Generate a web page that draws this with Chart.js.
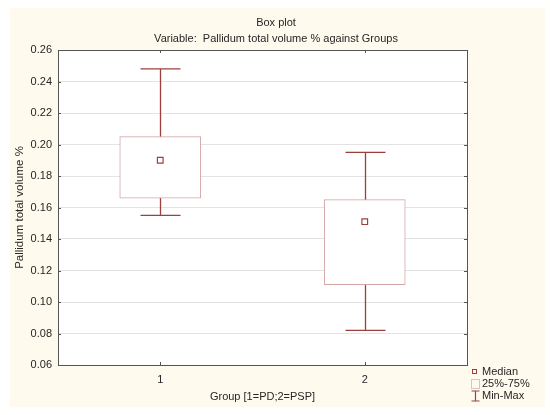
<!DOCTYPE html>
<html>
<head>
<meta charset="utf-8">
<script src="https://cdn.jsdelivr.net/npm/chart.js@4"></script>
<style>
  html, body { margin: 0; padding: 0; background: #fff; }
  #wrap { width: 550px; height: 415px; position: relative; }
</style>
</head>
<body>
<div id="wrap"><canvas id="chart"></canvas></div>
<script>
// data
var groups  = ["1", "2"];
var mins    = [0.155, 0.082];
var q1      = [0.166, 0.111];
var medians = [0.190, 0.151];
var q3      = [0.205, 0.165];
var maxs    = [0.248, 0.195];
var yTicks  = [0.06, 0.08, 0.10, 0.12, 0.14, 0.16, 0.18, 0.20, 0.22, 0.24, 0.26];

var darkRed = "#9e3f3f";
var boxLine = "#d3a5a5";
var font = "'Liberation Sans', Arial, sans-serif";

// cream panel + white plot area
var backdrop = {
  id: "backdrop",
  beforeDraw: function(chart) {
    var c = chart.ctx, a = chart.chartArea;
    c.save();
    c.fillStyle = "#fffaee";
    c.fillRect(10, 8, 535, 399);
    c.fillStyle = "#ffffff";
    c.fillRect(a.left, a.top, a.right - a.left, a.bottom - a.top);
    c.restore();
  }
};

// whiskers (behind the boxes)
var whiskers = {
  id: "whiskers",
  beforeDatasetsDraw: function(chart) {
    var c = chart.ctx, x = chart.scales.x, y = chart.scales.y;
    c.save();
    c.strokeStyle = darkRed;
    c.lineWidth = 1.3;
    for (var i = 0; i < groups.length; i++) {
      var px = Math.round(x.getPixelForValue(i)) + 0.5;
      var top = y.getPixelForValue(maxs[i]), bot = y.getPixelForValue(mins[i]);
      c.beginPath();
      c.moveTo(px, top); c.lineTo(px, bot);
      c.moveTo(px - 20, top); c.lineTo(px + 20, top);
      c.moveTo(px - 20, bot); c.lineTo(px + 20, bot);
      c.stroke();
    }
    c.restore();
  }
};

// frame, small ticks, titles, legend
var decor = {
  id: "decor",
  afterDraw: function(chart) {
    var c = chart.ctx, a = chart.chartArea, x = chart.scales.x, y = chart.scales.y;
    c.save();
    c.strokeStyle = "#555555";
    c.lineWidth = 1;
    c.strokeRect(Math.round(a.left) + 0.5, Math.round(a.top) + 0.5,
                 Math.round(a.right - a.left), Math.round(a.bottom - a.top));
    c.beginPath();
    yTicks.forEach(function(v) {
      var py = Math.round(y.getPixelForValue(v)) + 0.5;
      c.moveTo(a.left, py); c.lineTo(a.left + 3, py);
      c.moveTo(a.right, py); c.lineTo(a.right - 3, py);
    });
    groups.forEach(function(g, i) {
      var px = Math.round(x.getPixelForValue(i)) + 0.5;
      c.moveTo(px, a.top); c.lineTo(px, a.top + 3);
      c.moveTo(px, a.bottom); c.lineTo(px, a.bottom - 3);
    });
    c.stroke();

    c.fillStyle = "#262626";
    c.font = "11px " + font;
    c.textAlign = "center";
    c.textBaseline = "middle";
    c.fillText("Box plot", 276, 23);
    c.fillText("Variable:  Pallidum total volume % against Groups", 276, 39);
    c.fillText("Group [1=PD;2=PSP]", (a.left + a.right) / 2, 397);
    c.save();
    c.font = "11.5px " + font;
    c.translate(20, (a.top + a.bottom) / 2);
    c.rotate(-Math.PI / 2);
    c.fillText("Pallidum total volume %", 0, 0);
    c.restore();

    // legend
    c.textAlign = "left";
    c.fillText("Median", 482, 372);
    c.fillText("25%-75%", 482, 384);
    c.fillText("Min-Max", 482, 396);
    c.strokeStyle = darkRed;
    c.strokeRect(472.5, 369.5, 4, 4);
    c.strokeStyle = "#d8c4c4";
    c.strokeRect(471.5, 379.5, 8, 9);
    c.strokeStyle = darkRed;
    c.lineWidth = 1.2;
    c.beginPath();
    c.moveTo(475.5, 391); c.lineTo(475.5, 401);
    c.moveTo(471.5, 391); c.lineTo(479.5, 391);
    c.moveTo(471.5, 401); c.lineTo(479.5, 401);
    c.stroke();
    c.restore();
  }
};

new Chart(document.getElementById("chart"), {
  type: "bar",
  data: {
    labels: groups,
    datasets: [
      {
        type: "line",
        label: "Median",
        data: medians,
        showLine: false,
        pointStyle: "rect",
        pointRadius: 4,
        pointBackgroundColor: "#ffffff",
        pointBorderColor: darkRed,
        pointBorderWidth: 1.2,
        order: 0
      },
      {
        label: "25%-75%",
        data: q1.map(function(v, i) { return [v, q3[i]]; }),
        backgroundColor: "#ffffff",
        borderColor: boxLine,
        borderWidth: 1,
        borderSkipped: false,
        barThickness: 81,
        order: 1
      }
    ]
  },
  options: {
    responsive: true,
    maintainAspectRatio: false,
    animation: false,
    events: [],
    layout: { padding: { left: 0, top: 50, right: 83, bottom: 0 } },
    plugins: {
      legend: { display: false },
      tooltip: { enabled: false }
    },
    scales: {
      x: {
        offset: true,
        grid: { display: false, drawTicks: false },
        border: { display: false },
        ticks: { color: "#262626", padding: 8, font: { family: font, size: 11 } },
        afterFit: function(s) { s.height = 50; }
      },
      y: {
        min: 0.06,
        max: 0.26,
        afterBuildTicks: function(s) {
          s.ticks = yTicks.map(function(v) { return { value: v }; });
        },
        grid: { color: "#e3e3e3", drawTicks: false },
        border: { display: false },
        ticks: {
          color: "#262626",
          padding: 6,
          font: { family: font, size: 11 },
          callback: function(v) { return Number(v).toFixed(2); }
        },
        afterFit: function(s) { s.width = 58; }
      }
    }
  },
  plugins: [backdrop, whiskers, decor]
});
</script>
</body>
</html>
